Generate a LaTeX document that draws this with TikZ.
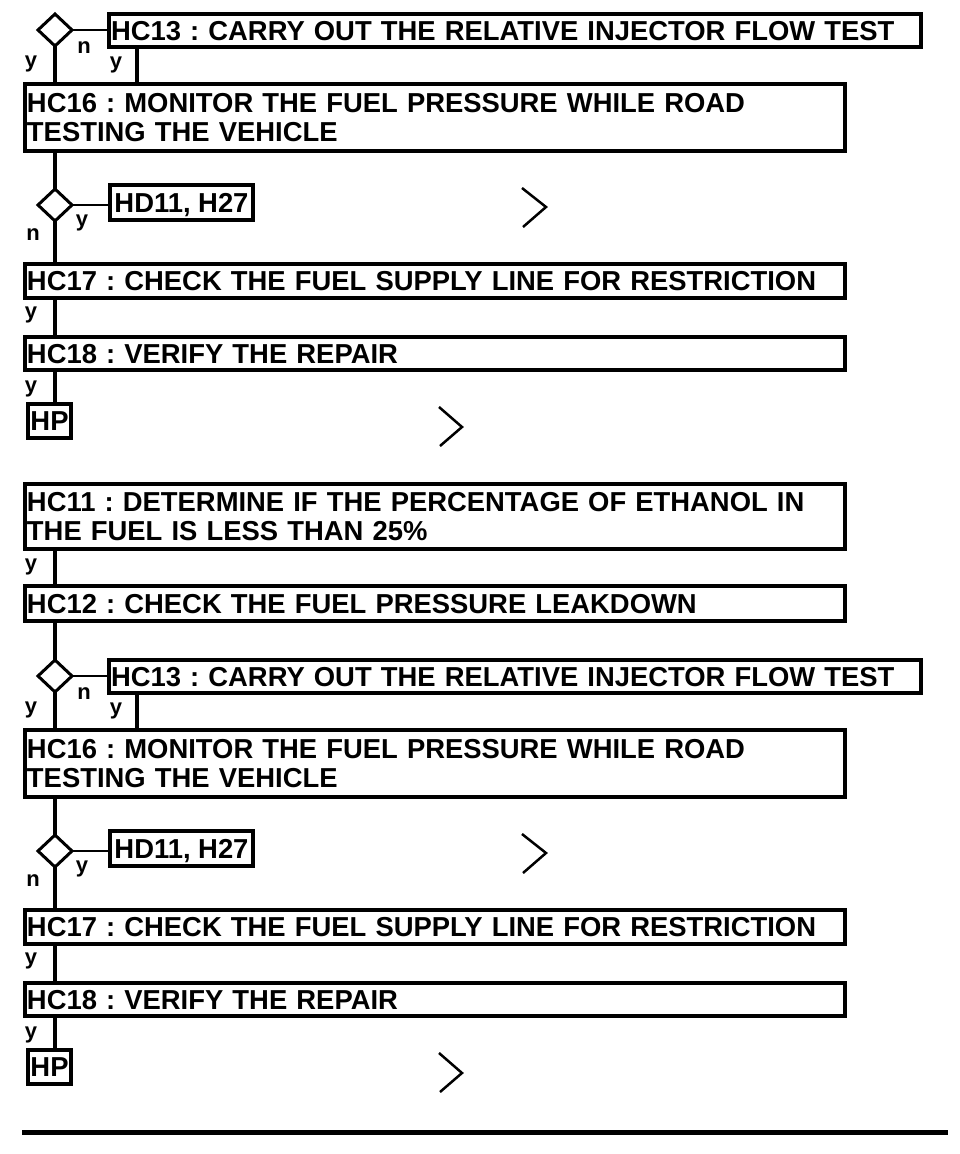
\documentclass[tikz,border=0pt]{standalone}
\usepackage{fontspec}
\setmainfont{Liberation Sans}
\usetikzlibrary{shapes.geometric}
\frenchspacing
\newcommand\boxfont{\fontsize{27.4pt}{29pt}\selectfont\bfseries\frenchspacing}
\newcommand\lblfont{\fontsize{22pt}{22pt}\selectfont\bfseries}
\tikzset{
 box/.style={draw, line width=4pt, inner xsep=2pt, inner ysep=0pt, outer sep=0pt, anchor=north west, font=\boxfont},
 wide/.style={box, minimum width=820pt, text width=816pt, align=left},
 one/.style={text height=19.6pt, text depth=0pt},
 small/.style={box, one},
 dec/.style={draw, diamond, line width=3pt, minimum width=34pt, minimum height=32pt, inner sep=0pt, outer sep=0pt, aspect=1},
 vline/.style={line width=4pt},
 hline/.style={line width=2.5pt},
 lbl/.style={font=\lblfont, inner sep=0pt},
 chev/.style={line width=2.5pt, line join=miter},
}
\newcommand\repblock[2]{%
 \begin{scope}[yshift=#2]
 \node[dec] (#1D1) at (55,30) {};
 \node[wide, one, minimum width=812pt, text width=808pt, minimum height=33pt] (#1HC13) at (109,14) {HC13 : CARRY OUT THE RELATIVE INJECTOR FLOW TEST};
 \node[wide, minimum height=67pt] (#1HC16) at (25,84) {HC16 : MONITOR THE FUEL PRESSURE WHILE ROAD\\TESTING THE VEHICLE};
 \node[dec] (#1D2) at (55,205) {};
 \node[small, minimum width=143pt, minimum height=35pt] (#1HD11) at (110,185) {HD11, H27};
 \node[wide, one, minimum height=34pt] (#1HC17) at (25,264) {HC17 : CHECK THE FUEL SUPPLY LINE FOR RESTRICTION};
 \node[wide, one, minimum height=33pt] (#1HC18) at (25,337) {HC18 : VERIFY THE REPAIR};
 \node[small, minimum width=43pt, minimum height=34pt] (#1HP) at (28,404) {HP};
 \draw[hline] (#1D1.east) -- (#1D1.east -| #1HC13.west);
 \draw[vline] (#1D1.south) -- (#1D1.south |- #1HC16.north);
 \draw[vline] ([xshift=28pt]#1HC13.south west) -- ([xshift=28pt]#1HC13.south west |- #1HC16.north);
 \draw[vline] (#1D2.north |- #1HC16.south) -- (#1D2.north);
 \draw[hline] (#1D2.east) -- (#1D2.east -| #1HD11.west);
 \draw[vline] (#1D2.south) -- (#1D2.south |- #1HC17.north);
 \draw[vline] (#1D2.south |- #1HC17.south) -- (#1D2.south |- #1HC18.north);
 \draw[vline] (#1D2.south |- #1HC18.south) -- (#1D2.south |- #1HP.north);
 \node[lbl] (#1y1) at (31,64) {y};
 \node[lbl] (#1n1) at (84,48) {n};
 \node[lbl] (#1y2) at (116,65) {y};
 \node[lbl] (#1y3) at (82,223) {y};
 \node[lbl] (#1n2) at (33,235) {n};
 \node[lbl] (#1y4) at (31,315) {y};
 \node[lbl] (#1y5) at (31,389) {y};
 \draw[chev] (522,188) -- (546,207) -- (523,227);
 \draw[chev] (439,407) -- (462,427) -- (440,446);
 \end{scope}}
\begin{document}
\begin{tikzpicture}[x=1pt, y=-1pt]
\useasboundingbox (0,0) rectangle (960,1154);
\repblock{A}{0pt}
\repblock{B}{-646pt}
\node[wide, minimum height=65pt] (HC11) at (25,484) {HC11 : DETERMINE IF THE PERCENTAGE OF ETHANOL IN\\THE FUEL IS LESS THAN 25\%};
\node[wide, one, minimum height=35pt] (HC12) at (25,586) {HC12 : CHECK THE FUEL PRESSURE LEAKDOWN};
\node[lbl] (y11) at (31,567) {y};
\draw[vline] (BD1.north |- HC11.south) -- (BD1.north |- HC12.north);
\draw[vline] (BD1.north |- HC12.south) -- (BD1.north);
\coordinate (rl) at (22,1132.5);
\coordinate (rr) at (948,1132.5);
\draw[line width=5pt] (rl) -- (rr);
\end{tikzpicture}
\end{document}
